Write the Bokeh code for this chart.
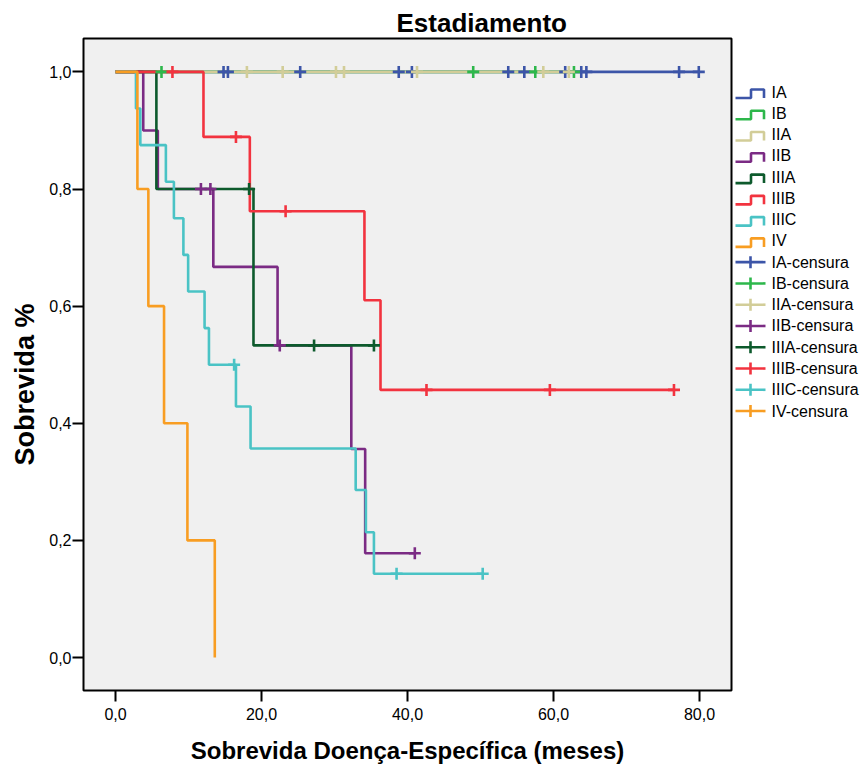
import numpy as np
from bokeh.plotting import figure
from bokeh.layouts import row
from bokeh.models import Title
from bokeh.core.properties import value
from bokeh.embed import file_html
from bokeh.resources import INLINE

FONT = "Liberation Sans"

groups = ["IA", "IB", "IIA", "IIB", "IIIA", "IIIB", "IIIC", "IV"]
colors = ["#3C55A8", "#2DB74B", "#D2CD98", "#7B2B84", "#0D5A2C", "#F2333F", "#4AC3C5", "#F89D22"]

# Kaplan-Meier steps: time points and survival after each time
ia_t = [0.0, 79.9]
ia_s = [1.0, 1.0]
ia_cens = [14.8, 15.4, 25.3, 38.8, 40.6, 53.8, 56.0, 61.6, 63.8, 64.5, 77.2, 79.9]

ib_t = [0.0, 62.8]
ib_s = [1.0, 1.0]
ib_cens = [6.3, 49.0, 57.5, 62.8]

iia_t = [0.0, 62.1]
iia_s = [1.0, 1.0]
iia_cens = [18.0, 22.9, 30.2, 31.3, 41.3, 58.6, 62.1]

iib_t = [0.0, 3.8, 5.8, 13.4, 22.2, 32.3, 34.2, 41.0]
iib_s = [1.0, 0.9, 0.8, 0.667, 0.533, 0.356, 0.178, 0.178]
iib_cens = [11.7, 13.0, 22.5, 41.0]

iiia_t = [0.0, 5.6, 18.9, 35.4]
iiia_s = [1.0, 0.8, 0.533, 0.533]
iiia_cens = [18.3, 27.2, 35.4]

iiib_t = [0.0, 12.05, 18.4, 34.1, 36.3, 76.5]
iiib_s = [1.0, 0.889, 0.762, 0.610, 0.457, 0.457]
iiib_cens = [7.8, 16.5, 23.3, 42.6, 59.5, 76.5]

iiic_t = [0.0, 2.8, 3.4, 6.9, 8.0, 9.3, 9.95, 12.2, 12.8, 16.5, 18.5, 32.9, 34.3, 35.4, 50.3]
iiic_s = [1.0, 0.9375, 0.875, 0.8125, 0.75, 0.6875, 0.625, 0.5625, 0.5, 0.4286, 0.357, 0.286, 0.214, 0.143, 0.143]
iiic_cens = [16.25, 38.5, 50.3]

iv_t = [0.0, 3.0, 4.5, 6.65, 9.85, 13.6]
iv_s = [1.0, 0.8, 0.6, 0.4, 0.2, 0.0]
iv_cens = []

curves = [(ia_t, ia_s, ia_cens), (ib_t, ib_s, ib_cens), (iia_t, iia_s, iia_cens),
          (iib_t, iib_s, iib_cens), (iiia_t, iiia_s, iiia_cens), (iiib_t, iiib_s, iiib_cens),
          (iiic_t, iiic_s, iiic_cens), (iv_t, iv_s, iv_cens)]

x_ticks = [0, 20, 40, 60, 80]
x_tick_labels = ["0,0", "20,0", "40,0", "60,0", "80,0"]
y_ticks = [0.0, 0.2, 0.4, 0.6, 0.8, 1.0]
y_tick_labels = ["0,0", "0,2", "0,4", "0,6", "0,8", "1,0"]

title_text = "Estadiamento"
x_label = "Sobrevida Doença-Específica (meses)"
y_label = "Sobrevida %"
legend_labels = groups + [g + "-censura" for g in groups]

TOP, BOTTOM = 38, 77

p = figure(width=733, height=767, x_range=(-4.384, 84.38), y_range=(-0.0563, 1.057),
           output_backend="svg", toolbar_location=None,
           min_border_left=83, min_border_right=2, min_border_top=TOP, min_border_bottom=BOTTOM)
p.background_fill_color = "#F0F0F0"
p.border_fill_color = "white"
p.outline_line_color = "black"
p.outline_line_width = 2
p.grid.grid_line_color = None

p.title.text = title_text
p.title.text_font = FONT
p.title.text_font_size = "26px"
p.title.text_font_style = "bold"
p.title.text_color = "black"
p.title.align = "left"
p.title.offset = 313
p.title.standoff = 2

p.xaxis.ticker = x_ticks
p.xaxis.major_label_overrides = dict(zip(x_ticks, x_tick_labels))
p.yaxis.ticker = y_ticks
p.yaxis.major_label_overrides = dict(zip(y_ticks, y_tick_labels))
for ax in (p.xaxis, p.yaxis):
    ax.axis_line_color = None
    ax.major_tick_line_color = "black"
    ax.major_tick_line_width = 2
    ax.major_tick_in = 0
    ax.major_tick_out = 11
    ax.minor_tick_line_color = None
    ax.major_label_text_font = FONT
    ax.major_label_text_font_size = "16px"
    ax.major_label_text_color = "black"
    ax.axis_label_text_font = FONT
    ax.axis_label_text_font_size = "24px"
    ax.axis_label_text_font_style = "bold"
    ax.axis_label_text_color = "black"
p.xaxis.major_label_standoff = 6
p.yaxis.major_label_standoff = 1
p.xaxis.axis_label = x_label
p.xaxis.axis_label_standoff = 14

p.add_layout(Title(text=y_label, align="left", offset=225, text_font=FONT,
                   text_font_size="27px", text_font_style="bold", text_color="black",
                   standoff=14), "left")

for (t, s, c), col in zip(curves, colors):
    p.step(x=t, y=s, mode="after", line_color=col, line_width=2.6)

for (t, s, c), col in zip(curves, colors):
    if len(c) == 0:
        continue
    idx = np.searchsorted(np.array(t), np.array(c), side="right") - 1
    cy = np.array(s)[idx]
    p.scatter(x=c, y=cy, marker="cross", size=12, line_color=col, line_width=2.6)

# legend panel (its frame is aligned with the main frame by the row layout)
lg = figure(width=128, height=767, x_range=(733, 861), y_range=(767 - BOTTOM, TOP),
            output_backend="svg", toolbar_location=None, min_border_left=0,
            min_border_right=0, min_border_top=TOP, min_border_bottom=BOTTOM,
            x_axis_location=None, y_axis_location=None)
lg.grid.grid_line_color = None
lg.outline_line_color = None
lg.background_fill_color = "white"
lg.border_fill_color = "white"

row_y0 = 91.5
row_dy = 21.27
n = len(groups)
step_xs, step_ys, cx_l, cy_l, cross_xs, cross_ys = [], [], [], [], [], []
for i in range(n):
    yc = row_y0 + row_dy * i
    step_xs.append([735, 750.5, 750.5, 763.5, 763.5])
    step_ys.append([yc + 6, yc + 6, yc - 2.5, yc - 2.5, yc + 6])
for i in range(n):
    yc = row_y0 + row_dy * (n + i)
    cross_xs.append([735, 765])
    cross_ys.append([yc, yc])
    cx_l.append(750)
    cy_l.append(yc)
lg.multi_line(xs=step_xs, ys=step_ys, line_color=colors, line_width=2.6)
lg.multi_line(xs=cross_xs, ys=cross_ys, line_color=colors, line_width=2.6)
lg.segment(x0=cx_l, y0=[y - 6 for y in cy_l], x1=cx_l, y1=[y + 6 for y in cy_l],
           line_color=colors, line_width=2.6)
lg.text(x=[771] * (2 * n), y=[row_y0 + row_dy * i for i in range(2 * n)], text=legend_labels,
        text_font=value(FONT), text_font_size="16px", text_baseline="middle",
        text_align="left", text_color="black")

layout = row(p, lg)
open("out.html", "w").write(file_html(layout, INLINE))
